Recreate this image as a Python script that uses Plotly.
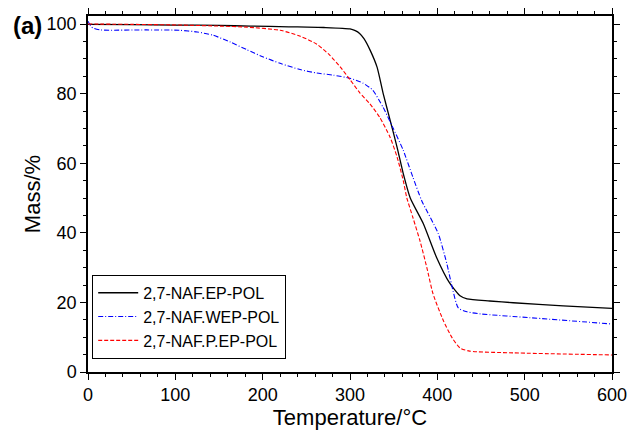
import plotly.graph_objects as go

# ---- data ----
t_ep = [0, 50, 100, 150, 186, 230, 270, 300, 306, 311, 316, 323, 331, 338, 346, 354, 361, 369,
        384, 399, 414, 426, 434, 460, 487, 544, 600]
m_ep = [99.9, 99.8, 99.7, 99.6, 99.4, 99.2, 99.0, 98.6, 98.1, 97.3, 95.8, 92.5, 87.6, 80.0,
        72.3, 64.5, 57.0, 50.0, 42.6, 33.0, 25.6, 21.9, 21.0, 20.4, 19.9, 19.0, 18.3]

t_wep = [0, 3, 6, 14, 67, 105, 125, 143, 163, 182, 200, 220, 243, 262, 281, 300, 315, 326,
         338, 349, 361, 372, 382, 401, 411, 418, 424, 434, 449, 506, 600]
m_wep = [100.8, 99.5, 98.8, 98.3, 98.3, 98.2, 97.7, 96.8, 94.8, 92.6, 90.6, 88.7, 86.9, 85.9,
         85.3, 84.4, 83.0, 81.0, 76.0, 70.3, 63.7, 56.0, 49.3, 39.8, 31.0, 23.3, 18.4, 17.3,
         16.7, 15.6, 13.8]

t_pep = [0, 50, 105, 150, 182, 220, 243, 262, 277, 289, 300, 311, 323, 334, 346, 354, 361,
         365, 372, 380, 388, 395, 407, 417, 426, 437, 487, 600]
m_pep = [100.0, 99.9, 99.7, 99.4, 99.1, 98.2, 96.5, 94.2, 91.0, 87.6, 84.0, 80.3, 77.0, 73.2,
         67.4, 61.7, 55.0, 50.1, 44.4, 37.8, 30.0, 22.5, 14.7, 9.8, 6.9, 6.0, 5.5, 4.9]

names = ["2,7-NAF.EP-POL", "2,7-NAF.WEP-POL", "2,7-NAF.P.EP-POL"]

FONT = "Arial, Liberation Sans, sans-serif"

fig = go.Figure()
fig.add_trace(go.Scatter(x=t_ep, y=m_ep, name=names[0], mode="lines",
                         line=dict(color="black", width=1.3, shape="spline", smoothing=0.6)))
fig.add_trace(go.Scatter(x=t_wep, y=m_wep, name=names[1], mode="lines",
                         line=dict(color="#0000ff", width=1.1, dash="5px,2px,1px,2px",
                                   shape="spline", smoothing=0.6)))
fig.add_trace(go.Scatter(x=t_pep, y=m_pep, name=names[2], mode="lines",
                         line=dict(color="#ff0000", width=1.1, dash="4px,2px",
                                   shape="spline", smoothing=0.6)))

axis_common = dict(showline=True, linecolor="black", linewidth=1.5, mirror="allticks",
                   ticks="outside", ticklen=6, tickwidth=1.2, tickcolor="black",
                   showgrid=False, zeroline=False, automargin=False,
                   tickfont=dict(family=FONT, size=18, color="black"))

fig.update_xaxes(range=[0, 600], dtick=100, tick0=0,
                 minor=dict(dtick=20, ticks="outside", ticklen=3, tickcolor="black", tickwidth=1),
                 title=dict(text="Temperature/°C", font=dict(family=FONT, size=22, color="black"),
                            standoff=0),
                 **axis_common)
fig.update_yaxes(range=[0, 102.3], dtick=20, tick0=0,
                 minor=dict(dtick=5, ticks="outside", ticklen=3, tickcolor="black", tickwidth=1),
                 title=dict(text="Mass/%", font=dict(family=FONT, size=22, color="black"),
                            standoff=0),
                 **axis_common)

fig.add_annotation(text="<b>(a)</b>", xref="paper", yref="paper", x=-0.116, y=0.972,
                   xanchor="center", yanchor="middle", showarrow=False,
                   font=dict(family=FONT, size=24, color="black"))

fig.update_layout(
    width=629, height=433,
    margin=dict(l=88, r=17, t=16, b=61, autoexpand=False),
    plot_bgcolor="white", paper_bgcolor="white",
    font=dict(family=FONT, color="black"),
    legend=dict(x=0.008, y=0.037, xanchor="left", yanchor="bottom",
                bordercolor="black", borderwidth=1, bgcolor="white",
                font=dict(family=FONT, size=16, color="black"),
                tracegroupgap=0, itemwidth=40),
)

fig.write_html("out.html", config={"displayModeBar": False},
               post_script="document.body.style.margin='0px';document.body.style.overflow='hidden';")
